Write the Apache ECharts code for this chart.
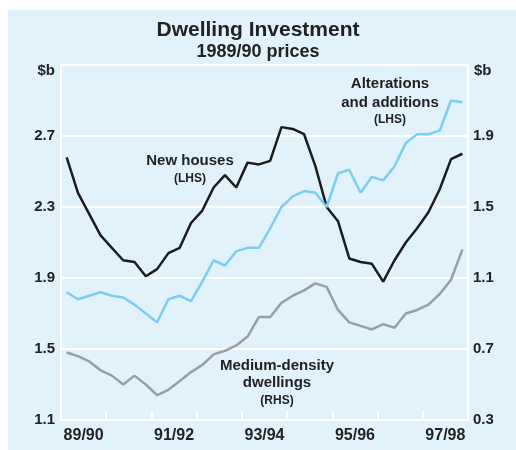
<!DOCTYPE html>
<html>
<head>
<meta charset="utf-8">
<script src="https://cdn.jsdelivr.net/npm/echarts@6/dist/echarts.min.js"></script>
<style>
  body { margin: 0; background: #fff; }
  #panel { position: absolute; left: 8px; top: 10px; width: 508px; height: 440px; background: #e1f2fa; }
  #chart { position: absolute; left: 0; top: 0; width: 516px; height: 450px; }
</style>
</head>
<body>
<div id="panel"></div>
<div id="chart"></div>
<script>
// quarters Sep-89 .. Jun-98
var quarters = [
  'S89', 'D89', 'M90', 'J90', 'S90', 'D90', 'M91', 'J91', 'S91', 'D91', 'M92', 'J92',
  'S92', 'D92', 'M93', 'J93', 'S93', 'D93', 'M94', 'J94', 'S94', 'D94', 'M95', 'J95',
  'S95', 'D95', 'M96', 'J96', 'S96', 'D96', 'M97', 'J97', 'S97', 'D97', 'M98', 'J98'
]
var years = ['89/90', '90/91', '91/92', '92/93', '93/94', '94/95', '95/96', '96/97', '97/98']

// $b, 1989/90 prices
var newHouses = [2.58, 2.38, 2.26, 2.14, 2.07, 2.00, 1.99, 1.91, 1.95, 2.04, 2.07, 2.21,
  2.28, 2.41, 2.48, 2.41, 2.55, 2.54, 2.56, 2.75, 2.74, 2.71, 2.53, 2.30,
  2.22, 2.01, 1.99, 1.98, 1.88, 2.00, 2.10, 2.18, 2.27, 2.40, 2.57, 2.60]
var alterations = [1.82, 1.78, 1.80, 1.82, 1.80, 1.79, 1.75, 1.70, 1.65, 1.78, 1.80, 1.77,
  1.88, 2.00, 1.97, 2.05, 2.07, 2.07, 2.18, 2.30, 2.36, 2.39, 2.38, 2.30,
  2.49, 2.51, 2.38, 2.47, 2.45, 2.53, 2.66, 2.71, 2.71, 2.73, 2.90, 2.89]
var mediumDensity = [0.68, 0.66, 0.63, 0.58, 0.55, 0.50, 0.55, 0.50, 0.44, 0.47, 0.52, 0.57,
  0.61, 0.67, 0.69, 0.72, 0.77, 0.88, 0.88, 0.96, 1.00, 1.03, 1.07, 1.05,
  0.92, 0.85, 0.83, 0.81, 0.84, 0.82, 0.90, 0.92, 0.95, 1.01, 1.09, 1.26]

var FONT = '"Liberation Sans", Arial, sans-serif'
var TXT = '#222'

function label(text, x, y, size) {
  return {
    type: 'text',
    z: 10,
    style: {
      text: text,
      x: x,
      y: y,
      fill: TXT,
      font: 'bold ' + size + 'px ' + FONT,
      textAlign: 'center',
      textVerticalAlign: 'middle'
    }
  }
}

var chart = echarts.init(document.getElementById('chart'))
var option = {
  animation: false,
  backgroundColor: 'transparent',
  title: {
    text: 'Dwelling Investment',
    subtext: '1989/90 prices',
    left: 'center',
    top: 15,
    itemGap: 2,
    textStyle: { fontFamily: FONT, fontWeight: 'bold', fontSize: 21, color: TXT },
    subtextStyle: { fontFamily: FONT, fontWeight: 'bold', fontSize: 18, color: TXT }
  },
  grid: {
    left: 61,
    top: 65,
    width: 407,
    height: 355,
    show: true,
    borderColor: '#fff',
    borderWidth: 2,
    backgroundColor: 'transparent'
  },
  xAxis: [
    {
      type: 'category',
      data: quarters,
      boundaryGap: true,
      show: false
    },
    {
      // year axis only carries the ticks and labels
      type: 'category',
      data: years,
      position: 'bottom',
      boundaryGap: true,
      axisLine: { show: true, lineStyle: { color: '#fff', width: 2 } },
      axisTick: { show: true, inside: true, length: 9, interval: 0, lineStyle: { color: '#fff', width: 2 } },
      axisLabel: { interval: 1, margin: 8, color: TXT, fontFamily: FONT, fontWeight: 'bold', fontSize: 16 },
      splitLine: { show: false }
    }
  ],
  yAxis: [
    {
      type: 'value',
      position: 'left',
      min: 1.1,
      max: 3.1,
      interval: 0.4,
      axisLine: { show: false },
      axisTick: { show: false },
      axisLabel: {
        margin: 6,
        color: TXT,
        fontFamily: FONT,
        fontWeight: 'bold',
        fontSize: 15,
        formatter: function(v) { return v > 3 ? '' : v.toFixed(1) }
      },
      splitLine: { show: true, lineStyle: { color: '#fff', width: 2 } }
    },
    {
      type: 'value',
      position: 'right',
      min: 0.3,
      max: 2.3,
      interval: 0.4,
      axisLine: { show: false },
      axisTick: { show: false },
      axisLabel: {
        margin: 5,
        color: TXT,
        fontFamily: FONT,
        fontWeight: 'bold',
        fontSize: 15,
        formatter: function(v) { return v > 2.2 ? '' : v.toFixed(1) }
      },
      splitLine: { show: false }
    }
  ],
  graphic: [
    { type: 'text', z: 10, style: { text: '$b', x: 55, y: 71, fill: TXT, font: 'bold 15px ' + FONT, textAlign: 'right', textVerticalAlign: 'middle' } },
    { type: 'text', z: 10, style: { text: '$b', x: 474, y: 71, fill: TXT, font: 'bold 15px ' + FONT, textAlign: 'left', textVerticalAlign: 'middle' } },
    label('New houses', 190, 161, 15),
    label('(LHS)', 190, 179, 12),
    label('Alterations', 390, 84, 15),
    label('and additions', 390, 103, 15),
    label('(LHS)', 390, 120, 12),
    label('Medium-density', 277, 366, 15),
    label('dwellings', 277, 383, 15),
    label('(RHS)', 277, 401, 12)
  ],
  series: [
    {
      name: 'New houses',
      type: 'line',
      xAxisIndex: 0,
      yAxisIndex: 0,
      symbol: 'none',
      lineStyle: { color: '#1c1c1c', width: 2.5 },
      data: newHouses
    },
    {
      name: 'Alterations and additions',
      type: 'line',
      xAxisIndex: 0,
      yAxisIndex: 0,
      symbol: 'none',
      lineStyle: { color: '#7ccdf2', width: 2.5 },
      data: alterations
    },
    {
      name: 'Medium-density dwellings',
      type: 'line',
      xAxisIndex: 0,
      yAxisIndex: 1,
      symbol: 'none',
      lineStyle: { color: '#999ea1', width: 2.5 },
      data: mediumDensity
    }
  ]
}
chart.setOption(option)
</script>
</body>
</html>
